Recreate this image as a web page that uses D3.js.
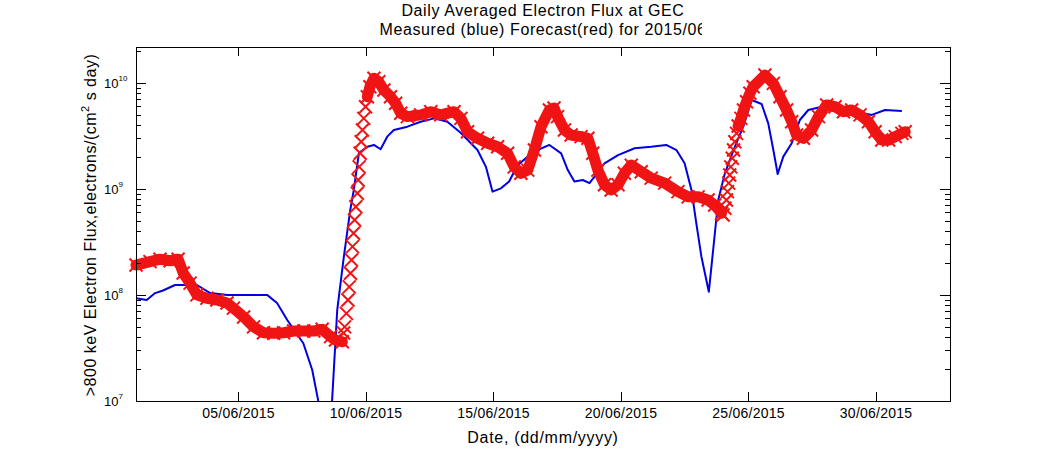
<!DOCTYPE html>
<html>
<head>
<meta charset="utf-8">
<script src="https://cdn.jsdelivr.net/npm/d3@7"></script>
<style>
  body { margin: 0; background: #fff; }
  svg text { font-family: "Liberation Sans", Arial, Helvetica, sans-serif; fill: #000; }
</style>
</head>
<body>
<div id="chart"></div>
<script>
// days are counted from 1 = 01/06/2015 00:00 UT
let measuredDay = [1.00, 1.42, 1.75, 2.06, 2.53, 2.85, 3.39, 3.91, 4.57, 6.14, 6.53, 6.93, 7.56, 7.91, 8.14, 8.57,
	8.69, 8.89, 9.15, 9.40, 9.54, 9.74, 10.07, 10.33, 10.59, 10.85, 11.11, 11.64, 12.16, 12.69, 13.21, 13.74,
	14.39, 14.72, 14.98, 15.31, 15.63, 15.96, 16.36, 16.75, 17.21, 17.67, 17.93, 18.19, 18.52, 18.78, 18.98,
	19.37, 19.90, 20.55, 21.20, 21.79, 22.19, 22.51, 22.78, 22.97, 23.17, 23.46, 23.63, 23.83, 24.09, 24.48,
	24.81, 25.14, 25.53, 25.79, 25.99, 26.16, 26.38, 26.71, 27.03, 27.36, 27.89, 28.41, 29.20, 29.85, 30.37, 31.03];
let measuredFlux = [9.3e7, 8.96e7, 1.04e8, 1.10e8, 1.24e8, 1.24e8, 1.24e8, 1.04e8, 1.0e8, 1.0e8, 8.4e7, 5.8e7, 3.5e7, 1.96e7, 1.02e7, 3.1e6,
	1.02e7, 7.2e7, 2.29e8, 6.3e8, 9.75e8, 2.17e9, 2.49e9, 2.59e9, 2.36e9, 3.10e9, 3.58e9, 3.85e9, 4.29e9, 4.61e9, 4.29e9, 3.36e9,
	2.32e9, 1.61e9, 9.4e8, 1.01e9, 1.17e9, 1.67e9, 2.01e9, 2.32e9, 2.59e9, 2.16e9, 1.50e9, 1.17e9, 1.21e9, 1.13e9, 1.30e9,
	1.74e9, 2.08e9, 2.41e9, 2.49e9, 2.59e9, 2.32e9, 1.74e9, 9.75e8, 4.73e8, 2.29e8, 1.07e8, 2.65e8, 7.84e8, 1.40e9, 2.49e9,
	3.85e9, 6.87e9, 6.30e9, 4.14e9, 2.32e9, 1.38e9, 2.01e9, 2.69e9, 4.45e9, 5.53e9, 5.94e9, 5.53e9, 5.33e9, 4.97e9, 5.53e9, 5.41e9];

let forecastDay = [
	1.00, 1.55, 1.94, 2.34, 2.65, 2.85, 3.12, 3.39, 3.78, 4.17,
	4.57, 4.82, 5.22, 5.61, 6.00, 6.40, 6.79, 7.18, 7.58, 7.97,
	8.30, 8.63, 8.82, 9.09, 9.14, 9.18, 9.25, 9.31, 9.36, 9.41,
	9.45, 9.49, 9.53, 9.57, 9.62, 9.68, 9.71, 9.75, 9.79, 9.83,
	9.88, 9.93, 10.00, 10.07, 10.17, 10.33, 10.52, 10.72, 10.98, 11.18,
	11.38, 11.64, 12.16, 12.56, 12.95, 13.47, 13.74, 14.00, 14.39, 14.79,
	15.18, 15.57, 15.83, 16.09, 16.36, 16.62, 16.88, 17.21, 17.39, 17.53,
	17.80, 18.06, 18.45, 18.72, 18.91, 19.11, 19.37, 19.63, 19.90, 20.15,
	20.42, 20.81, 21.20, 21.73, 22.25, 22.65, 23.04, 23.43, 23.69, 23.96,
	24.02, 24.09, 24.15, 24.19, 24.24, 24.28, 24.32, 24.38, 24.43, 24.48,
	24.55, 24.61, 24.72, 24.82, 24.94, 25.07, 25.20, 25.66, 25.99, 26.25,
	26.51, 26.71, 26.90, 27.17, 27.49, 27.76, 28.08, 28.41, 28.74, 29.06,
	29.39, 29.72, 29.98, 30.24, 30.51, 30.77, 31.03, 31.16];
let forecastFlux = [
	1.91e8, 2.06e8, 2.17e8, 2.10e8, 2.17e8, 1.61e8, 1.29e8, 1.0e8, 9.3e7, 8.96e7,
	8.4e7, 7.5e7, 6.2e7, 5.0e7, 4.4e7, 4.35e7, 4.4e7, 4.57e7, 4.57e7, 4.57e7,
	4.74e7, 4.04e7, 3.76e7, 3.62e7, 4.38e7, 5.0e7, 6.7e7, 8.96e7, 1.19e8, 1.60e8,
	2.13e8, 2.85e8, 3.81e8, 5.08e8, 6.78e8, 9.08e8, 1.21e9, 1.61e9, 2.16e9, 2.78e9,
	3.58e9, 4.61e9, 5.94e9, 7.38e9, 9.16e9, 1.10e10, 1.02e10, 8.53e9, 7.38e9, 6.40e9,
	5.15e9, 4.79e9, 4.97e9, 5.33e9, 4.97e9, 5.33e9, 4.61e9, 3.45e9, 2.99e9, 2.69e9,
	2.49e9, 2.16e9, 1.61e9, 1.40e9, 1.50e9, 2.32e9, 3.85e9, 5.53e9, 5.78e9, 4.79e9,
	3.58e9, 3.21e9, 3.10e9, 2.99e9, 2.16e9, 1.50e9, 1.09e9, 9.75e8, 1.09e9, 1.40e9,
	1.67e9, 1.45e9, 1.26e9, 1.13e9, 9.4e8, 8.4e8, 8.4e8, 7.84e8, 7.03e8, 5.87e8,
	5.66e8, 6.55e8, 7.84e8, 9.4e8, 1.13e9, 1.35e9, 1.61e9, 1.94e9, 2.32e9, 2.78e9,
	3.33e9, 3.91e9, 4.61e9, 5.53e9, 6.62e9, 7.94e9, 9.16e9, 1.18e10, 9.86e9, 7.38e9,
	5.53e9, 4.29e9, 3.21e9, 2.99e9, 3.58e9, 4.79e9, 6.17e9, 5.94e9, 5.33e9, 5.53e9,
	4.97e9, 4.29e9, 3.45e9, 2.88e9, 2.88e9, 3.10e9, 3.33e9, 3.45e9];

let xTickDays = [5, 10, 15, 20, 25, 30];
let yMajorTicks = [1e7, 1e8, 1e9, 1e10];
let xDomain = ["2015-06-01T00:00Z", "2015-07-02T22:00Z"];
let yDomain = [1e7, 2.17e10];

let titleLines = ["Daily Averaged Electron Flux at GEC", "Measured (blue) Forecast(red) for 2015/06"];
let xLabel = "Date, (dd/mm/yyyy)";

let width = 1051, height = 450;
let margin = { top: 47, right: 101, bottom: 49, left: 136 };

let toDate = (d) => new Date(Date.UTC(2015, 5, 1) + (d - 1) * 864e5);

let measured = measuredDay.map((d, i) => ({ day: d, date: toDate(d), flux: measuredFlux[i] }));
let forecast = forecastDay.map((d, i) => ({ day: d, date: toDate(d), flux: forecastFlux[i] }));

let yMinorTicks = [];
for (let e = 7; e <= 10; e++) {
	for (let k = 2; k <= 9; k++) {
		let v = k * Math.pow(10, e);
		if (v <= yDomain[1]) yMinorTicks.push(v);
	}
}

let svg = d3.select("#chart").append("svg").attr("width", width).attr("height", height);

let xScale = d3.scaleUtc()
	.domain(xDomain.map((s) => new Date(s)))
	.range([margin.left, width - margin.right]);
let yScale = d3.scaleLog()
	.domain(yDomain)
	.range([height - margin.bottom, margin.top]);

let plotW = width - margin.left - margin.right;
let plotH = height - margin.top - margin.bottom;

svg.append("clipPath").attr("id", "plot-clip")
	.append("rect")
	.attr("x", margin.left).attr("y", margin.top)
	.attr("width", plotW).attr("height", plotH);
svg.append("clipPath").attr("id", "title-clip")
	.append("rect").attr("x", 0).attr("y", 0).attr("width", 702).attr("height", 45);

let lineGen = d3.line()
	.x((d) => xScale(d.date))
	.y((d) => yScale(d.flux));

// measured (blue)
svg.append("path")
	.attr("clip-path", "url(#plot-clip)")
	.attr("fill", "none")
	.attr("stroke", "#0000e0")
	.attr("stroke-width", 2)
	.attr("stroke-linejoin", "round")
	.attr("d", lineGen(measured));

// forecast (red): hourly x markers merge into a thick band except on fast rises,
// where single markers are read off and drawn apart
let runs = [];
let run = [forecast[0]];
for (let i = 1; i < forecast.length; i++) {
	let a = forecast[i - 1], b = forecast[i];
	let dx = xScale(b.date) - xScale(a.date);
	let dy = Math.abs(yScale(b.flux) - yScale(a.flux));
	if (b.day - a.day > 0.09 && dy / dx < 8) {
		run.push(b);
	} else {
		if (run.length > 1) runs.push(run);
		run = [b];
	}
}
if (run.length > 1) runs.push(run);

svg.append("g")
	.selectAll("path")
	.data(runs)
	.join("path")
	.attr("fill", "none")
	.attr("stroke", "#f01414")
	.attr("stroke-width", 11)
	.attr("stroke-linejoin", "round")
	.attr("stroke-linecap", "round")
	.attr("d", (d) => lineGen(d));

svg.append("g")
	.selectAll("path")
	.data(forecast)
	.join("path")
	.attr("transform", (d) => `translate(${xScale(d.date)},${yScale(d.flux)})`)
	.attr("d", "M-6.5,-6.5L6.5,6.5M-6.5,6.5L6.5,-6.5")
	.attr("fill", "none")
	.attr("stroke", "#f01414")
	.attr("stroke-width", 2);

// axes, ticks pointing inward on all sides
let xTickDates = xTickDays.map(toDate);
let styleAxis = (g) => {
	g.select(".domain").remove();
	g.selectAll("line").attr("stroke", "#000").attr("shape-rendering", "crispEdges");
};

svg.append("g")
	.attr("transform", `translate(0,${height - margin.bottom})`)
	.call(d3.axisBottom(xScale).tickValues(xTickDates).tickSize(-9).tickPadding(7)
		.tickFormat(d3.utcFormat("%d/%m/%Y")))
	.call(styleAxis)
	.call((g) => g.selectAll("text").attr("font-size", 14).attr("letter-spacing", 0.25).attr("font-family", null));

svg.append("g")
	.attr("transform", `translate(0,${margin.top})`)
	.call(d3.axisTop(xScale).tickValues(xTickDates).tickSize(-9).tickFormat(""))
	.call(styleAxis);

svg.append("g")
	.attr("transform", `translate(${margin.left},0)`)
	.call(d3.axisLeft(yScale).tickValues(yMinorTicks).tickSize(-5).tickFormat(""))
	.call(styleAxis);
svg.append("g")
	.attr("transform", `translate(${width - margin.right},0)`)
	.call(d3.axisRight(yScale).tickValues(yMinorTicks).tickSize(-5).tickFormat(""))
	.call(styleAxis);
svg.append("g")
	.attr("transform", `translate(${width - margin.right},0)`)
	.call(d3.axisRight(yScale).tickValues(yMajorTicks).tickSize(-10).tickFormat(""))
	.call(styleAxis);

svg.append("g")
	.attr("transform", `translate(${margin.left},0)`)
	.call(d3.axisLeft(yScale).tickValues(yMajorTicks).tickSize(-10).tickFormat(""))
	.call(styleAxis)
	.call((g) => g.selectAll(".tick text").remove())
	.call((g) => {
		let t = g.selectAll(".tick").append("text")
			.attr("x", -32)
			.attr("dy", "0.34em")
			.attr("text-anchor", "start")
			.attr("font-size", 13);
		t.append("tspan").text("10");
		t.append("tspan").attr("dy", -7).attr("font-size", 8)
			.text((d) => Math.round(Math.log10(d)));
	});

svg.append("rect")
	.attr("x", margin.left).attr("y", margin.top)
	.attr("width", plotW).attr("height", plotH)
	.attr("fill", "none").attr("stroke", "#000").attr("stroke-width", 1)
	.attr("shape-rendering", "crispEdges");

// titles and labels
let cx = margin.left + plotW / 2;
svg.append("text").attr("x", cx).attr("y", 16).attr("text-anchor", "middle")
	.attr("font-size", 16).attr("letter-spacing", 0.6).text(titleLines[0]);
svg.append("text").attr("x", cx).attr("y", 35).attr("text-anchor", "middle")
	.attr("font-size", 16).attr("letter-spacing", 0.6)
	.attr("clip-path", "url(#title-clip)").text(titleLines[1]);

svg.append("text").attr("x", cx).attr("y", 443).attr("text-anchor", "middle")
	.attr("font-size", 16).attr("letter-spacing", 0.7).text(xLabel);

let yLab = svg.append("text")
	.attr("transform", `translate(96,${margin.top + plotH / 2 + 1}) rotate(-90)`)
	.attr("text-anchor", "middle")
	.attr("font-size", 16)
	.attr("letter-spacing", 0.5);
yLab.append("tspan").text(">800 keV Electron Flux,electrons/(cm");
yLab.append("tspan").attr("dy", -7).attr("font-size", 11).text("2");
yLab.append("tspan").attr("dy", 7).text("  s day)");
</script>
</body>
</html>
